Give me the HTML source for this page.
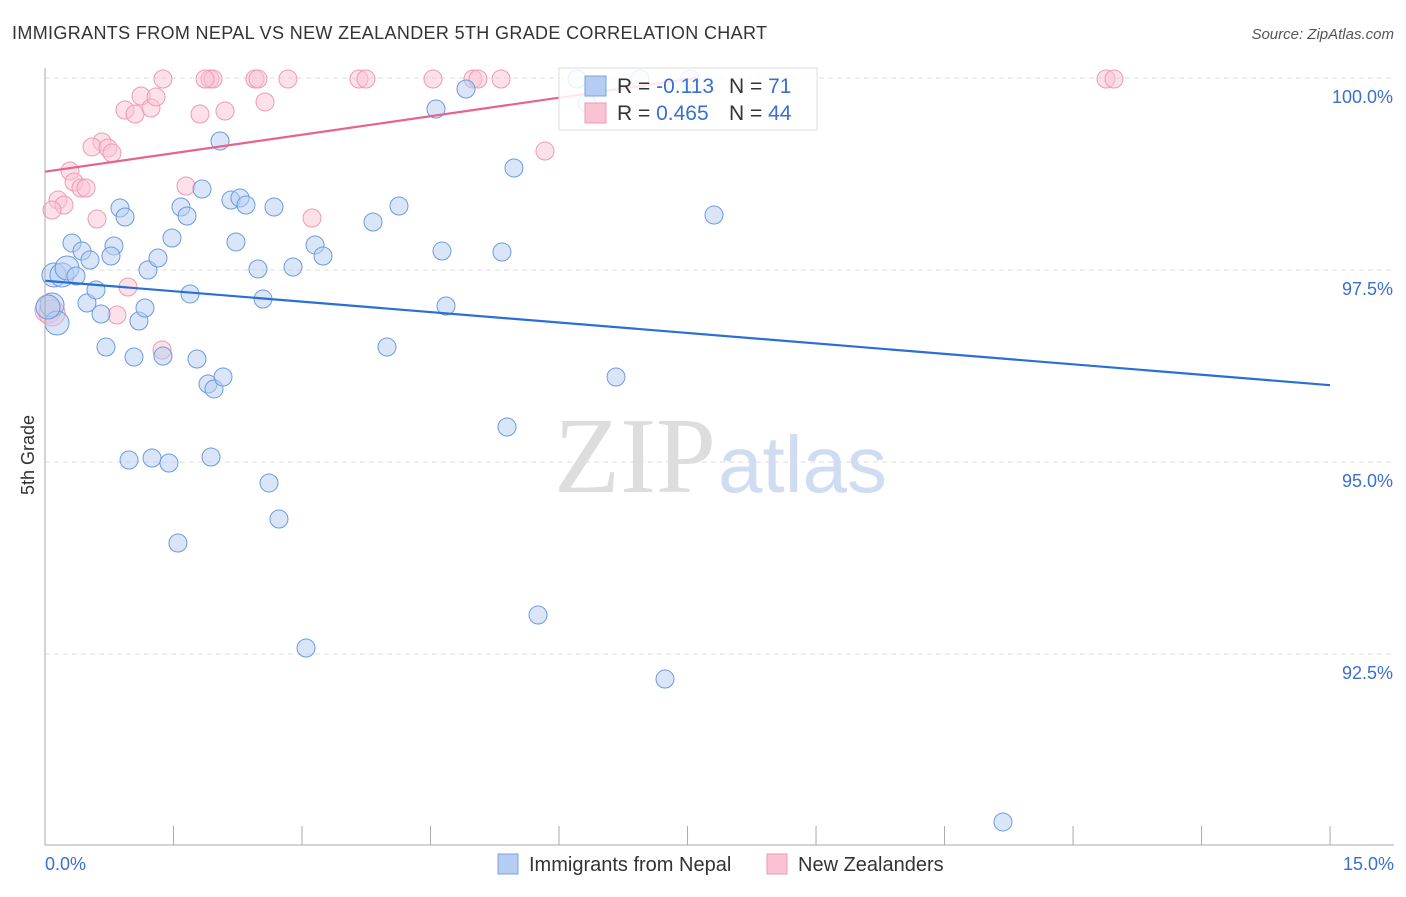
<!DOCTYPE html>
<html><head><meta charset="utf-8"><style>
body{margin:0;background:#fff;font-family:"Liberation Sans",sans-serif}
</style></head><body>
<svg id="c" width="1406" height="892" xmlns="http://www.w3.org/2000/svg">
<text x="12" y="39" font-size="18" fill="#333" textLength="755">IMMIGRANTS FROM NEPAL VS NEW ZEALANDER 5TH GRADE CORRELATION CHART</text>
<text x="1394" y="39" font-size="15" fill="#555" font-style="italic" text-anchor="end">Source: ZipAtlas.com</text>
<text x="34" y="455" font-size="18" fill="#333" transform="rotate(-90 34 455)" text-anchor="middle">5th Grade</text>
<text x="716" y="492" font-size="108" fill="#ddd" text-anchor="end" font-family="Liberation Serif">ZIP</text>
<text x="718" y="492" font-size="80" fill="#cfdcf2">atlas</text>
<g id="grid"></g><g id="pts"></g><g id="lines"></g>
<line x1="45" y1="68" x2="45" y2="845" stroke="#aaa"/>
<line x1="45" y1="845" x2="1394" y2="845" stroke="#aaa"/>
<text x="45" y="870" font-size="18" fill="#3a6fd0">0.0%</text>
<text x="1394" y="870" font-size="18" fill="#3a6fd0" text-anchor="end">15.0%</text>
<g>
<rect x="559" y="68" width="258" height="62" fill="#fff" fill-opacity="0.85" stroke="#ddd"/>
<rect x="585" y="76" width="21" height="20" fill="#b5cdf2" stroke="#7aa3e0"/>
<rect x="585" y="103" width="21" height="20" fill="#f9c3d3" stroke="#ee9ab4"/>
<text x="617" y="93" font-size="21" fill="#333">R = <tspan fill="#3a6fd0">-0.113</tspan></text>
<text x="729" y="93" font-size="21" fill="#333">N = <tspan fill="#3a6fd0"> 71</tspan></text>
<text x="617" y="120" font-size="21" fill="#333">R = <tspan fill="#3a6fd0">0.465</tspan></text>
<text x="729" y="120" font-size="21" fill="#333">N = <tspan fill="#3a6fd0">44</tspan></text>
</g>
<g>
<rect x="498" y="854" width="20" height="20" fill="#b5cdf2" stroke="#7aa3e0"/>
<text x="529" y="871" font-size="20" fill="#333">Immigrants from Nepal</text></g>
<g>
<rect x="767" y="854" width="20" height="20" fill="#f9c3d3" stroke="#ee9ab4"/>
<text x="798" y="871" font-size="20" fill="#333">New Zealanders</text></g>
</svg>
<script>
const yTicks=[100,97.5,95,92.5];
const yTickLabels=["100.0%","97.5%","95.0%","92.5%"];
const xTicks=[0,1.5,3,4.5,6,7.5,9,10.5,12,13.5,15];
const bluePx=[[54,275],[62,275],[67,268],[52,305],[57,323],[48,307],[72,243],[82,251],[90,260],[76,276],[87,303],[96,290],[101,314],[114,246],[111,256],[120,208],[125,217],[106,347],[134,357],[139,321],[145,308],[148,270],[158,258],[172,238],[163,356],[190,294],[181,207],[187,216],[202,189],[220,141],[231,200],[240,198],[246,205],[236,242],[258,269],[263,299],[274,207],[293,267],[315,245],[323,256],[197,359],[208,384],[214,389],[223,377],[129,460],[152,458],[169,463],[211,457],[178,543],[269,483],[279,519],[306,648],[373,222],[399,206],[387,347],[436,109],[466,89],[442,251],[446,306],[502,252],[514,168],[507,427],[538,615],[577,79],[587,103],[616,377],[665,679],[714,215],[1003,822],[640,79],[690,79]];
const pinkPx=[[163,79],[210,79],[213,79],[205,79],[255,79],[258,79],[288,79],[359,79],[366,79],[433,79],[473,79],[478,79],[501,79],[1106,79],[1114,79],[125,110],[135,114],[141,96],[151,108],[156,97],[200,114],[225,111],[265,102],[102,142],[92,147],[108,148],[112,153],[70,171],[74,182],[81,188],[86,188],[58,200],[64,205],[52,210],[97,219],[186,186],[312,218],[128,287],[117,315],[162,350],[545,151],[48,310],[52,313]];
const blueX=bluePx.map(p=>+((p[0]-45)/85.67).toFixed(3)), blueY=bluePx.map(p=>+(100-(p[1]-78)/76.8).toFixed(3));
const pinkX=pinkPx.map(p=>+((p[0]-45)/85.67).toFixed(3)), pinkY=pinkPx.map(p=>+(100-(p[1]-78)/76.8).toFixed(3));
const blueFit=[97.36,96.0]; const pinkFit=[98.78,100.0]; const pinkFitX=[0,7.6];
const sx=v=>45+v*85.67, sy=v=>78+(100-v)*76.8;
const NS="http://www.w3.org/2000/svg";
function mk(t,a,p){const e=document.createElementNS(NS,t);for(const k in a)e.setAttribute(k,a[k]);p.appendChild(e);return e;}
const g=document.getElementById('grid');
yTicks.forEach((t,i)=>{
 const l=mk('line',{x1:45,x2:1394,y1:sy(t),y2:sy(t),stroke:'#ddd','stroke-dasharray':'5,4'},g);
 
 
 const tx=mk('text',{x:1393,y:sy(t)+25,'font-size':18,fill:'#3a6fd0','text-anchor':'end'},g);
 tx.textContent=yTickLabels[i];
 
 
});
xTicks.forEach(t=>{
 const l=mk('line',{x1:sx(t),x2:sx(t),y1:826,y2:845,stroke:'#aaa'},g);
 
 
});
const P=document.getElementById('pts');
pinkX.forEach((x,i)=>{
 const c=mk('circle',{cx:sx(x),cy:sy(pinkY[i]),r:(i>=41?13:9),fill:'#f9c3d3','fill-opacity':0.5,stroke:'#ee9ab4'},P);
 
 
});
blueX.forEach((x,i)=>{
 const c=mk('circle',{cx:sx(x),cy:sy(blueY[i]),r:(i<6?12:9),fill:'#b5cdf2','fill-opacity':0.5,stroke:'#6a9be0'},P);
 
 
});
const L=document.getElementById('lines');
const b=mk('line',{x1:sx(0),y1:sy(blueFit[0]),x2:sx(15),y2:sy(blueFit[1]),stroke:'#2a6fd6','stroke-width':2.2},L);


const pk=mk('line',{x1:sx(pinkFitX[0]),y1:sy(pinkFit[0]),x2:sx(pinkFitX[1]),y2:sy(pinkFit[1]),stroke:'#e8628f','stroke-width':2.2},L);


</script>
</body></html>
